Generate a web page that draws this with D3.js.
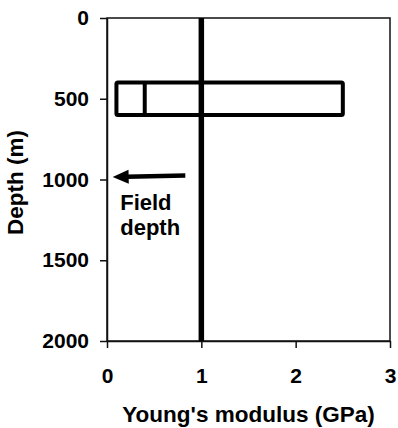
<!DOCTYPE html>
<html>
<head>
<meta charset="utf-8">
<script src="https://cdn.jsdelivr.net/npm/d3@7"></script>
<style>
  body { margin: 0; background: #fff; }
  svg { display: block; font-family: "Liberation Sans", Arial, sans-serif; font-weight: bold; }
  .axis path, .axis line { stroke: #111; stroke-width: 1.5; }
  .axis text { font-size: 21px; fill: #000; font-weight: bold; }
</style>
</head>
<body>
<script>
// chart values
const depthTicks = [0, 500, 1000, 1500, 2000]
const modulusTicks = [0, 1, 2, 3]
const fieldModulus = 1            // vertical reference line (GPa)
const boxModulus = [0.1, 0.4, 2.5] // left edge, divider, right edge (GPa)
const boxDepth = [400, 600]       // top, bottom (m)
const arrowFrom = [0.83, 975]
const arrowTo = [0.06, 985]
const noteLines = ['Field', 'depth']
const notePos = [0.14, 1189]

const W = 398, H = 428
const margin = {top: 18, right: 8, bottom: 87, left: 107}
const w = W - margin.left - margin.right
const h = H - margin.top - margin.bottom

const svg = d3.select('body').append('svg')
  .attr('width', W).attr('height', H)

const g = svg.append('g').attr('transform', `translate(${margin.left},${margin.top})`)

const x = d3.scaleLinear().domain([0, 3]).range([0, w])
const y = d3.scaleLinear().domain([0, 2000]).range([0, h])

// frame
g.append('rect')
  .attr('width', w).attr('height', h)
  .attr('fill', 'none').attr('stroke', '#111').attr('stroke-width', 1.5)

g.append('g').classed('axis', true)
  .call(d3.axisLeft(y).tickValues(depthTicks).tickFormat(d3.format('d')).tickSize(7).tickPadding(11).tickSizeOuter(0))

g.append('g').classed('axis', true)
  .attr('transform', `translate(0,${h})`)
  .call(d3.axisBottom(x).tickValues(modulusTicks).tickFormat(d3.format('d')).tickSize(7).tickPadding(20).tickSizeOuter(0))

// field modulus line
g.append('line')
  .attr('x1', x(fieldModulus)).attr('x2', x(fieldModulus))
  .attr('y1', y(0)).attr('y2', y(2000))
  .attr('stroke', '#000').attr('stroke-width', 5.5)

// range box
g.append('rect')
  .attr('x', x(boxModulus[0])).attr('y', y(boxDepth[0]))
  .attr('width', x(boxModulus[2]) - x(boxModulus[0]))
  .attr('height', y(boxDepth[1]) - y(boxDepth[0]))
  .attr('rx', 1.5)
  .attr('fill', 'none').attr('stroke', '#000').attr('stroke-width', 4)
  .attr('stroke-linejoin', 'round')
g.append('line')
  .attr('x1', x(boxModulus[1])).attr('x2', x(boxModulus[1]))
  .attr('y1', y(boxDepth[0])).attr('y2', y(boxDepth[1]))
  .attr('stroke', '#000').attr('stroke-width', 4)

// arrow
const ax0 = x(arrowFrom[0]), ay0 = y(arrowFrom[1])
const ax1 = x(arrowTo[0]), ay1 = y(arrowTo[1])
const ang = Math.atan2(ay1 - ay0, ax1 - ax0)
const headLen = 16, headW = 7
const bx = ax1 - headLen * Math.cos(ang), by = ay1 - headLen * Math.sin(ang)
g.append('line')
  .attr('x1', ax0).attr('y1', ay0).attr('x2', bx + 2 * Math.cos(ang)).attr('y2', by + 2 * Math.sin(ang))
  .attr('stroke', '#000').attr('stroke-width', 4.5)
g.append('path')
  .attr('d', [
    'M', ax1, ay1,
    'L', bx - headW * Math.sin(ang), by + headW * Math.cos(ang),
    'L', bx + headW * Math.sin(ang), by - headW * Math.cos(ang),
    'Z'].join(' '))
  .attr('fill', '#000')

const note = g.append('text')
  .attr('x', x(notePos[0])).attr('y', y(notePos[1]))
  .attr('font-size', 22)
note.selectAll('tspan').data(noteLines).enter().append('tspan')
  .attr('x', x(notePos[0]))
  .attr('dy', (d, i) => i ? 25 : 0)
  .text(d => d)

// axis titles
svg.append('text')
  .attr('x', margin.left + w / 2).attr('y', 422)
  .attr('text-anchor', 'middle').attr('font-size', 22.5)
  .text("Young's modulus (GPa)")

svg.append('text')
  .attr('transform', `translate(23,${margin.top + h / 2 + 3}) rotate(-90)`)
  .attr('text-anchor', 'middle').attr('font-size', 22.5)
  .text('Depth (m)')
</script>
</body>
</html>
